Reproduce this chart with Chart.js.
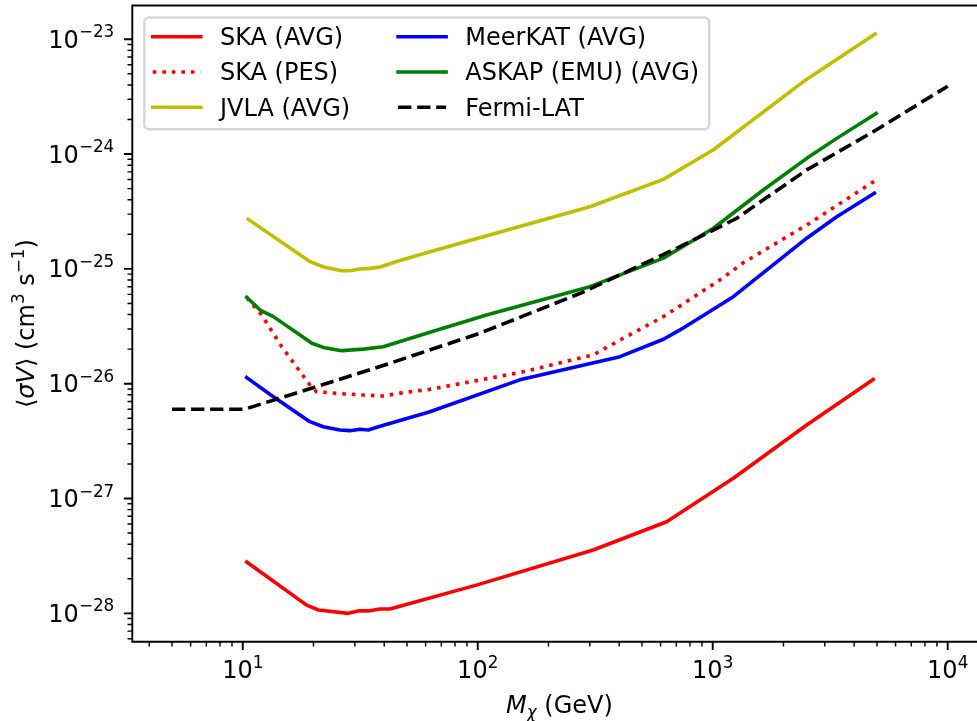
<!DOCTYPE html>
<html>
<head>
<meta charset="utf-8">
<script src="https://cdn.jsdelivr.net/npm/chart.js@4"></script>
<style>
html,body{margin:0;padding:0;background:#fff;overflow:hidden;}
canvas{display:block;}
</style>
</head>
<body>
<canvas id="c" width="977" height="721"></canvas>
<script>
// Dark-matter mass (GeV) and annihilation cross-section limits (cm^3 s^-1)
const skaAvgMass = [10.4, 18.7, 21.0, 28.1, 31.0, 34.2, 38.4, 42.3, 99.5, 310, 637, 1224, 2512, 4820];
const skaAvgSv   = [2.80e-28, 1.18e-28, 1.07e-28, 1.00e-28, 1.05e-28, 1.05e-28, 1.09e-28, 1.09e-28, 1.77e-28, 3.56e-28, 6.28e-28, 1.50e-27, 4.37e-27, 1.09e-26];

const skaPesMass = [10.4, 12.05, 14.66, 19.3, 20.6, 25.1, 32.6, 39.6, 48.2, 62.6, 151, 310, 403, 617, 1072, 1349, 2512, 4960];
const skaPesSv   = [5.6e-26, 3.96e-26, 2.10e-26, 9.75e-27, 8.51e-27, 8.24e-27, 7.97e-27, 7.82e-27, 8.35e-27, 8.93e-27, 1.25e-26, 1.78e-26, 2.40e-26, 3.84e-26, 8.0e-26, 1.13e-25, 2.41e-25, 5.94e-25];

const jvlaMass = [10.56, 19.3, 22.0, 26.4, 28.6, 31.6, 34.8, 38.4, 45.2, 62.6, 300, 617, 1007, 2432, 4910];
const jvlaSv   = [2.70e-25, 1.16e-25, 1.04e-25, 9.63e-26, 9.63e-26, 9.97e-26, 1.01e-25, 1.04e-25, 1.16e-25, 1.41e-25, 3.48e-25, 6.02e-25, 1.09e-24, 4.28e-24, 1.11e-23];

const meerkatMass = [10.4, 13.5, 19.3, 22.0, 25.9, 28.6, 31.6, 34.2, 37.8, 62.6, 151, 403, 617, 726, 1224, 2512, 3372, 4875];
const meerkatSv   = [1.13e-26, 7.71e-27, 4.67e-27, 4.22e-27, 3.95e-27, 3.90e-27, 4.01e-27, 3.95e-27, 4.22e-27, 5.70e-27, 1.08e-26, 1.72e-26, 2.44e-26, 2.94e-26, 5.73e-26, 1.85e-25, 2.85e-25, 4.56e-25];

const askapMass = [10.4, 11.85, 13.5, 19.7, 22.0, 26.4, 32.6, 39.6, 62.6, 109, 300, 617, 1007, 1640, 2512, 3372, 4960];
const askapSv   = [5.66e-26, 4.38e-26, 3.84e-26, 2.25e-26, 2.07e-26, 1.94e-26, 2.00e-26, 2.10e-26, 2.81e-26, 3.96e-26, 7.00e-26, 1.24e-25, 2.26e-25, 4.87e-25, 9.18e-25, 1.37e-24, 2.26e-24];

const fermiMass = [5, 10.2, 38.4, 102, 273, 726, 1265, 2512, 4960, 10000];
const fermiSv   = [6.0e-27, 6.0e-27, 1.41e-26, 2.75e-26, 6.12e-26, 1.56e-25, 2.76e-25, 7.28e-25, 1.62e-24, 3.9e-24];

const seriesLabels = ['SKA (AVG)', 'SKA (PES)', 'JVLA (AVG)', 'MeerKAT (AVG)', 'ASKAP (EMU) (AVG)', 'Fermi-LAT'];

// Axis limits and labelled decades
const xLimits = [Math.pow(10, 0.530), Math.pow(10, 4.1247)];
const yLimits = [Math.pow(10, -28.247), Math.pow(10, -22.706)];
const xTickExponents = [1, 2, 3, 4];
const yTickExponents = [-28, -27, -26, -25, -24, -23];

const FONT = '"DejaVu Sans", "Liberation Sans", sans-serif';
const FS = 24;           // base font size
const LW = 3.6;          // line width

function pts(xs, ys) { return xs.map((x, i) => ({ x: x, y: ys[i] })); }

const styles = [
  { color: '#ff0000', dash: [] },
  { color: '#ff0000', dash: [3.6, 5.94] },
  { color: '#bfbf00', dash: [] },
  { color: '#0000ff', dash: [] },
  { color: '#008000', dash: [] },
  { color: '#000000', dash: [13.3, 5.76] }
];
const seriesData = [
  pts(skaAvgMass, skaAvgSv),
  pts(skaPesMass, skaPesSv),
  pts(jvlaMass, jvlaSv),
  pts(meerkatMass, meerkatSv),
  pts(askapMass, askapSv),
  pts(fermiMass, fermiSv)
];

const datasets = seriesLabels.map((label, i) => ({
  label: label,
  data: seriesData[i],
  borderColor: styles[i].color,
  borderDash: styles[i].dash,
  borderWidth: LW,
  borderCapStyle: styles[i].dash.length ? 'butt' : 'square',
  borderJoinStyle: 'round',
  pointRadius: 0,
  showLine: true,
  fill: false,
  tension: 0,
  order: seriesLabels.length - 1 - i
}));

function fontOf(r) {
  return (r.italic ? 'italic ' : '') + (r.size || FS) + 'px ' + FONT;
}
function runsWidth(ctx, runs) {
  let w = 0;
  for (const r of runs) { ctx.font = fontOf(r); w += ctx.measureText(r.t).width; }
  return w;
}
function drawRuns(ctx, runs, x, y, align) {
  const w = runsWidth(ctx, runs);
  let cx = align === 'center' ? x - w / 2 : (align === 'right' ? x - w : x);
  ctx.textAlign = 'left';
  ctx.textBaseline = 'alphabetic';
  for (const r of runs) {
    ctx.font = fontOf(r);
    ctx.fillText(r.t, cx, y + (r.dy || 0));
    cx += ctx.measureText(r.t).width;
  }
}
function powerLabel(e) {
  const s = (e < 0 ? '\u2212' : '') + Math.abs(e);
  return [{ t: '10' }, { t: s, size: FS * 0.7, dy: -10.5 }];
}
function minorValues(lo, hi) {
  const out = [];
  for (let e = Math.floor(Math.log10(lo)); e <= Math.ceil(Math.log10(hi)); e++) {
    for (let k = 2; k <= 9; k++) {
      const v = k * Math.pow(10, e);
      if (v >= lo && v <= hi) out.push(v);
    }
  }
  return out;
}

const axesDecor = {
  id: 'axesDecor',
  afterDraw(chart) {
    const ctx = chart.ctx;
    const a = chart.chartArea;
    const xs = chart.scales.x, ys = chart.scales.y;
    ctx.save();
    ctx.strokeStyle = '#000';
    ctx.fillStyle = '#000';

    // spines
    ctx.lineWidth = 1.9;
    ctx.lineCap = 'square';
    ctx.beginPath();
    ctx.moveTo(a.right + 2, a.top); ctx.lineTo(a.left, a.top);
    ctx.lineTo(a.left, a.bottom); ctx.lineTo(a.right + 2, a.bottom);
    ctx.stroke();
    ctx.lineCap = 'butt';

    // minor ticks
    ctx.lineWidth = 1.44;
    ctx.beginPath();
    for (const v of minorValues(xLimits[0], xLimits[1])) {
      const px = xs.getPixelForValue(v);
      ctx.moveTo(px, a.bottom); ctx.lineTo(px, a.bottom + 4.8);
    }
    for (const v of minorValues(yLimits[0], yLimits[1])) {
      const py = ys.getPixelForValue(v);
      ctx.moveTo(a.left, py); ctx.lineTo(a.left - 4.8, py);
    }
    ctx.stroke();

    // major ticks and labels
    ctx.lineWidth = 1.9;
    ctx.beginPath();
    for (const e of xTickExponents) {
      const px = xs.getPixelForValue(Math.pow(10, e));
      ctx.moveTo(px, a.bottom); ctx.lineTo(px, a.bottom + 8.4);
    }
    for (const e of yTickExponents) {
      const py = ys.getPixelForValue(Math.pow(10, e));
      ctx.moveTo(a.left, py); ctx.lineTo(a.left - 8.4, py);
    }
    ctx.stroke();
    for (const e of xTickExponents) {
      const px = xs.getPixelForValue(Math.pow(10, e));
      drawRuns(ctx, powerLabel(e), px, a.bottom + 36.6, 'center');
    }
    for (const e of yTickExponents) {
      const py = ys.getPixelForValue(Math.pow(10, e));
      drawRuns(ctx, powerLabel(e), a.left - 18, py + 8.5, 'right');
    }

    // axis titles
    const axesRight = a.left + (a.right - a.left) * (4.165 - 0.530) / (4.1247 - 0.530);
    drawRuns(ctx, [
      { t: 'M', italic: true },
      { t: '\u03c7', italic: true, size: FS * 0.7, dy: 5 },
      { t: ' (GeV)' }
    ], (a.left + axesRight) / 2, 713, 'center');

    ctx.save();
    ctx.translate(34, (a.top + a.bottom) / 2);
    ctx.rotate(-Math.PI / 2);
    drawRuns(ctx, [
      { t: '\u27e8' },
      { t: '\u03c3V', italic: true },
      { t: '\u27e9' },
      { t: ' (cm' },
      { t: '3', size: FS * 0.7, dy: -10.5 },
      { t: ' s' },
      { t: '\u22121', size: FS * 0.7, dy: -10.5 },
      { t: ')' }
    ], 0, 0, 'center');
    ctx.restore();

    // legend
    const ds = chart.data.datasets;
    const rows = 3;
    const boxL = a.left + 12, boxT = a.top + 12;
    const handleLen = 48, textGap = 19.2, colGap = 48;
    ctx.font = FS + 'px ' + FONT;
    const colW = [0, 0];
    ds.forEach((d, i) => {
      const c = Math.floor(i / rows);
      colW[c] = Math.max(colW[c], ctx.measureText(d.label).width);
    });
    const col1X = boxL + 8.5;
    const col2X = col1X + handleLen + textGap + colW[0] + colGap;
    const boxR = col2X + handleLen + textGap + colW[1] + 10;
    const rowY0 = boxT + 19.2, rowStep = 35.3;
    const boxB = rowY0 + rowStep * 2 + 22;

    const r = 4.8;
    ctx.beginPath();
    ctx.moveTo(boxL + r, boxT);
    ctx.lineTo(boxR - r, boxT); ctx.arcTo(boxR, boxT, boxR, boxT + r, r);
    ctx.lineTo(boxR, boxB - r); ctx.arcTo(boxR, boxB, boxR - r, boxB, r);
    ctx.lineTo(boxL + r, boxB); ctx.arcTo(boxL, boxB, boxL, boxB - r, r);
    ctx.lineTo(boxL, boxT + r); ctx.arcTo(boxL, boxT, boxL + r, boxT, r);
    ctx.closePath();
    ctx.fillStyle = 'rgba(255,255,255,0.8)';
    ctx.fill();
    ctx.lineWidth = 2.4;
    ctx.strokeStyle = 'rgba(204,204,204,0.8)';
    ctx.stroke();

    ds.forEach((d, i) => {
      const c = Math.floor(i / rows), row = i % rows;
      const hx = c === 0 ? col1X : col2X;
      const hy = rowY0 + row * rowStep;
      ctx.beginPath();
      ctx.setLineDash(d.borderDash);
      ctx.lineDashOffset = 0;
      ctx.lineCap = d.borderCapStyle;
      ctx.lineWidth = LW;
      ctx.strokeStyle = d.borderColor;
      ctx.moveTo(hx, hy); ctx.lineTo(hx + handleLen, hy);
      ctx.stroke();
      ctx.setLineDash([]);
      ctx.fillStyle = '#000';
      ctx.font = FS + 'px ' + FONT;
      ctx.textAlign = 'left';
      ctx.textBaseline = 'alphabetic';
      ctx.fillText(d.label, hx + handleLen + textGap, hy + 8.3);
    });
    ctx.restore();
  }
};

new Chart(document.getElementById('c'), {
  type: 'scatter',
  data: { datasets: datasets },
  options: {
    responsive: false,
    animation: false,
    devicePixelRatio: 1,
    layout: { autoPadding: false, padding: { top: 5.5, left: 0, right: 0, bottom: 0 } },
    plugins: { legend: { display: false }, tooltip: { enabled: false } },
    scales: {
      x: {
        type: 'logarithmic', min: xLimits[0], max: xLimits[1],
        grid: { display: false }, border: { display: false }, ticks: { display: false },
        afterFit(s) { s.height = 79.3; }
      },
      y: {
        type: 'logarithmic', min: yLimits[0], max: yLimits[1],
        grid: { display: false }, border: { display: false }, ticks: { display: false },
        afterFit(s) { s.width = 132.3; }
      }
    }
  },
  plugins: [axesDecor]
});
</script>
</body>
</html>
